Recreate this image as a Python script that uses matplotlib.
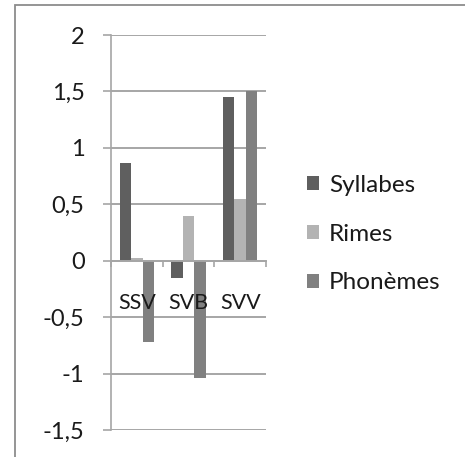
import numpy as np
import matplotlib.pyplot as plt
from matplotlib.patches import Rectangle
from matplotlib.ticker import FuncFormatter

plt.rcParams['font.family'] = ['Lato', 'DejaVu Sans']

# données
categories = ['SSV', 'SVB', 'SVV']
syllabes = [0.87, -0.15, 1.45]
rimes = [0.02, 0.40, 0.55]
phonemes = [-0.72, -1.04, 1.50]
series = [('Syllabes', syllabes, '#5f5f5f'),
          ('Rimes', rimes, '#b3b3b3'),
          ('Phonèmes', phonemes, '#808080')]

W, H = 465, 457
fig = plt.figure(figsize=(W / 100, H / 100), dpi=100)
ax = fig.add_axes([111 / W, 1 - 430 / H, 155 / W, 395 / H])

# cadre extérieur (seuls les bords gauche et haut sont visibles)
fig.add_artist(Rectangle((15 / W, -0.2), 1.2, 1.2 - 5 / H, transform=fig.transFigure,
                         fill=False, ec='#8c8c8c', lw=1.3))

x = np.arange(len(categories))
w = 1 / 4.5
for i, (name, vals, col) in enumerate(series):
    ax.bar(x + (i - 1) * w, vals, w, color=col, label=name, zorder=2)

ax.set_xlim(-0.5, 2.5)
ax.set_ylim(-1.5, 2)
ax.set_yticks(np.arange(-1.5, 2.01, 0.5))
ax.yaxis.set_major_formatter(FuncFormatter(lambda v, p: f'{v:g}'.replace('.', ',')))
ax.grid(axis='y', color='#a6a6a6', lw=1.4, zorder=0)
ax.set_axisbelow(True)

for s in ['top', 'right']:
    ax.spines[s].set_visible(False)
ax.spines['left'].set_color('#a6a6a6')
ax.spines['left'].set_linewidth(1.2)
ax.spines['bottom'].set_position(('data', 0))
ax.spines['bottom'].set_color('#a6a6a6')
ax.spines['bottom'].set_linewidth(1.4)

ax.tick_params(axis='y', length=6, width=1.2, color='#a6a6a6', pad=13,
               labelsize=17, labelcolor='#1a1a1a')
ax.set_xticks(np.arange(-0.5, 2.6, 1))
ax.set_xticklabels([])
ax.tick_params(axis='x', direction='out', length=4.5, width=1.2, color='#a6a6a6')

for xi, cat in zip(x, categories):
    ax.annotate(cat, xy=(xi, 0), xytext=(0, -23), textcoords='offset points',
                ha='center', va='top', fontsize=15.5, color='#1a1a1a', zorder=5)

fig.legend(loc='center left', bbox_to_anchor=(307 / W, 1 - 234 / H), frameon=False,
           fontsize=17.5, handlelength=0.5, handleheight=0.5, handletextpad=0.4,
           labelspacing=1.15, borderpad=0, borderaxespad=0, labelcolor='#1a1a1a')

fig.savefig('out.png', dpi=100)
